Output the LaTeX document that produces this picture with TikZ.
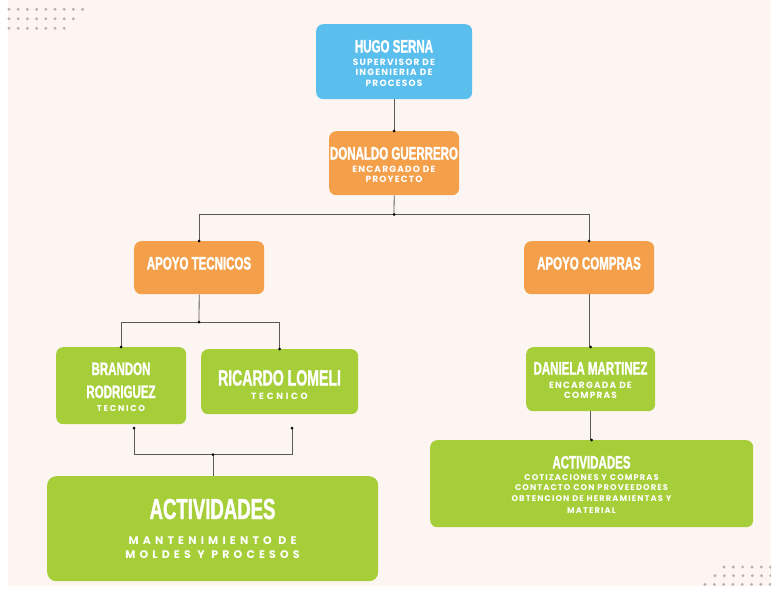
\documentclass[tikz,border=0pt]{standalone}
\usepackage{fontspec}
\newfontfamily\titlefont[FakeStretch=0.64,BoldFeatures={FakeBold=1.3}]{Liberation Sans}
\newfontfamily\subA[LetterSpace=13,BoldFont={Poppins Bold}]{Poppins}
\newfontfamily\subB[LetterSpace=20,BoldFont={Poppins Bold}]{Poppins}
\newfontfamily\subC[LetterSpace=30,BoldFont={Poppins Bold}]{Poppins}
\newfontfamily\subW[LetterSpace=38,BoldFont={Poppins Bold}]{Poppins}
\definecolor{bgc}{HTML}{FDF5F2}
\definecolor{bluec}{HTML}{5BBFEE}
\definecolor{orangec}{HTML}{F4A04B}
\definecolor{greenc}{HTML}{A6CE39}
\definecolor{dotc}{HTML}{B8B0AE}
\definecolor{linec}{HTML}{5A5A5A}
\tikzset{
  boxnode/.style={draw=none,rounded corners=7pt,inner sep=0pt,anchor=north west},
  ttl/.style={text=white,anchor=base,inner sep=0pt,font=\titlefont\bfseries\fontsize{#1}{#1}\selectfont},
  ttl/.default=18,
  sub/.style={text=white,anchor=base,inner sep=0pt,font=\subA\bfseries\fontsize{#1}{#1}\selectfont},
  sub/.default=9,
  subb/.style={text=white,anchor=base,inner sep=0pt,font=\subB\bfseries\fontsize{#1}{#1}\selectfont},
  subc/.style={text=white,anchor=base,inner sep=0pt,font=\subC\bfseries\fontsize{#1}{#1}\selectfont},
  subw/.style={text=white,anchor=base,inner sep=0pt,font=\subW\bfseries\fontsize{#1}{#1}\selectfont},
  conn/.style={draw=linec,line width=0.8pt},
  jdot/.style={fill=black,circle,inner sep=0pt,minimum size=3pt}
}
\begin{document}
\begin{tikzpicture}[x=1pt,y=-1pt]
\useasboundingbox (0,0) rectangle (771,592);
\fill[white] (0,0) rectangle (771,592);
\fill[bgc] (8,0) rectangle (771,586);
% dots
\foreach \r/\n in {0/9,1/8,2/7}{
  \foreach \i in {1,...,\n}{
    \fill[dotc] ({9+(\i-1)*9.2},{9.3+\r*9.5}) circle (1.6pt);
  }
}
\foreach \r/\s in {0/724,1/715,2/705}{
  \foreach \i in {0,...,7}{
    \pgfmathsetmacro\xx{\s+\i*9.3}
    \ifdim\xx pt<771pt \fill[dotc] (\xx,{567+\r*8.7}) circle (1.6pt);\fi
  }
}
% boxes
\node[boxnode,fill=bluec,minimum width=156pt,minimum height=75pt] (hugo) at (316,24) {};
\node[boxnode,fill=orangec,minimum width=130pt,minimum height=64pt] (don) at (329,131) {};
\node[boxnode,fill=orangec,minimum width=130pt,minimum height=53pt] (apt) at (134,241) {};
\node[boxnode,fill=orangec,minimum width=130pt,minimum height=53pt] (apc) at (524,241) {};
\node[boxnode,fill=greenc,minimum width=130pt,minimum height=77pt] (bra) at (56,347) {};
\node[boxnode,fill=greenc,minimum width=157pt,minimum height=65pt] (ric) at (201,349) {};
\node[boxnode,fill=greenc,minimum width=129pt,minimum height=64pt] (dan) at (526,347) {};
\node[boxnode,fill=greenc,minimum width=323pt,minimum height=87pt] (actr) at (430,440) {};
\node[boxnode,fill=greenc,minimum width=331pt,minimum height=105pt,rounded corners=9pt] (actl) at (47,476) {};
% texts
\node[ttl] (hugoT) at (394,52.5) {HUGO SERNA};
\node[sub] (hugoS1) at (394,65) {SUPERVISOR DE};
\node[sub] (hugoS2) at (394,75.7) {INGENIERIA DE};
\node[sub] (hugoS3) at (394,86) {PROCESOS};
\node[ttl] (donT) at (394,159.5) {DONALDO GUERRERO};
\node[sub] (donS1) at (394,172) {ENCARGADO DE};
\node[sub] (donS2) at (394,182.3) {PROYECTO};
\node[ttl] (aptT) at (199,269.5) {APOYO TECNICOS};
\node[ttl] (apcT) at (589,269.5) {APOYO COMPRAS};
\node[ttl] (braT1) at (121,375) {BRANDON};
\node[ttl] (braT2) at (121,398) {RODRIGUEZ};
\node[subb=8.5] (braS) at (121,411) {TECNICO};
\node[ttl=22] (ricT) at (279.5,385.5) {RICARDO LOMELI};
\node[subc=9] (ricS) at (279.5,399) {TECNICO};
\node[ttl] (danT) at (590.5,374.5) {DANIELA MARTINEZ};
\node[sub] (danS1) at (590.5,388) {ENCARGADA DE};
\node[sub] (danS2) at (590.5,398.3) {COMPRAS};
\node[ttl] (actrT) at (591.5,468.5) {ACTIVIDADES};
\node[sub=8.3] (actrS1) at (591.5,480.3) {COTIZACIONES Y COMPRAS};
\node[sub=8.3] (actrS2) at (591.5,490.5) {CONTACTO CON PROVEEDORES};
\node[sub=8.3] (actrS3) at (591.5,501) {OBTENCION DE HERRAMIENTAS Y};
\node[sub=8.3] (actrS4) at (591.5,513) {MATERIAL};
\node[ttl=29] (actlT) at (212.5,519) {ACTIVIDADES};
\node[subw=11] (actlS1) at (212.5,544.3) {MANTENIMIENTO DE};
\node[subw=11] (actlS2) at (212.5,558.3) {MOLDES Y PROCESOS};
% connectors
\coordinate (j1) at (394,214.5);
\coordinate (j2) at (199,322);
\coordinate (cb) at (134,428);
\coordinate (cr) at (292,428);
\coordinate (j3) at (213,454.5);
\draw[conn] (hugo.south) -- (don.north);
\draw[conn] (don.south) -- (j1);
\draw[conn] (j1) -| (apt.north);
\draw[conn] (j1) -| (apc.north);
\draw[conn] (apt.south) -- (j2);
\draw[conn] (j2) -| (bra.north);
\draw[conn] (j2) -| (ric.north);
\draw[conn] (apc.south) -- (apc.south |- dan.north);
\draw[conn] (dan.south) -- (dan.south |- actr.north);
\draw[conn] (cb) |- (j3) -| (cr);
\draw[conn] (j3) -- (j3 |- actl.north);
\foreach \p in {don.north,j1,apt.north,apc.north,j2,bra.north,ric.north,dan.north,actr.north,cb,cr,j3}
  \node[jdot] at (\p) {};
\end{tikzpicture}
\end{document}
